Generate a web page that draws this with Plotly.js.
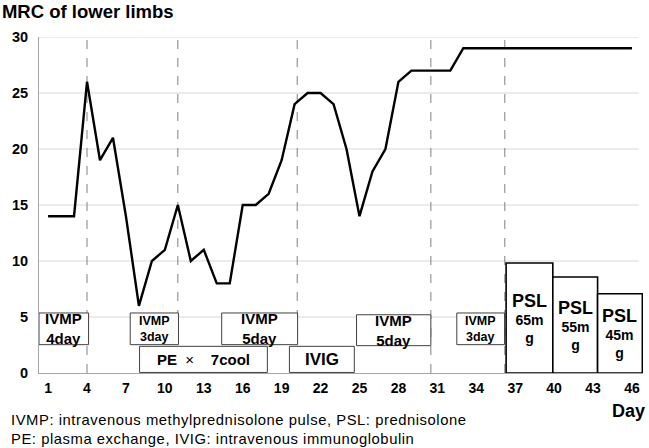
<!DOCTYPE html>
<html>
<head>
<meta charset="utf-8">
<script src="https://cdn.plot.ly/plotly-3.0.1.min.js"></script>
<style>html,body{margin:0;padding:0;background:#fff}#chart{width:649px;height:448px}</style>
</head>
<body>
<div id="chart"></div>
<script>
// Day of observation
var days = [];
for (var d = 1; d <= 46; d++) days.push(d);
// MRC score of lower limbs
var mrc = [14,14,14,26,19,21,14,6,10,11,15,10,11,8,8,15,15,16,19,24,25,25,24,20,14,18,20,26,27,27,27,27,29,29,29,29,29,29,29,29,29,29,29,29,29,29];
var tickDays = [1,4,7,10,13,16,19,22,25,28,31,34,37,40,43,46];
var yTicks = [0,5,10,15,20,25,30];
// treatment start markers (days)
var markerDays = [4, 11, 20.2, 30.5, 36.2];
// treatment boxes: label lines, day span, score span
var boxStart = [0.3, 7.33, 14.38, 8.05, 19.6, 24.77, 32.5, 36.3, 39.9, 43.35];
var boxEnd   = [4.12, 11.05, 20.23, 17.9, 24.6, 30.5, 36.18, 39.9, 43.35, 46.8];
var boxLow   = [2.53, 2.53, 2.53, 0.05, 0.05, 2.44, 2.53, 0, 0, 0];
var boxHigh  = [5.36, 5.36, 5.36, 2.38, 2.38, 5.2, 5.36, 9.82, 8.57, 7.08];
var boxText  = ['IVMP<br>4day', 'IVMP<br>3day', 'IVMP<br>5day', 'PE  <span style="font-weight:normal">×</span>    7cool', 'IVIG',
                'IVMP<br>5day', 'IVMP<br>3day',
                '<span style="font-size:18px">PSL</span><br>65m<br>g',
                '<span style="font-size:18px">PSL</span><br>55m<br>g',
                '<span style="font-size:18px">PSL</span><br>45m<br>g'];
var boxFont  = [15, 12.5, 15, 15, 17, 15, 12.5, 14, 14, 14];
var boxStrong = [false,false,false,false,false,false,false,true,true,true];
var footnote = ['IVMP: intravenous methylprednisolone pulse, PSL: prednisolone',
                'PE: plasma exchange, IVIG: intravenous immunoglobulin'];

var FONT = 'Liberation Sans, Arial, sans-serif';
var shapes = [];
var annotations = [];
var xMin = 0.3, xMax = 46.85, xGridEnd = 46.5;

yTicks.forEach(function (v) {
  if (v === 0) return;
  shapes.push({type:'line', xref:'x', yref:'y', x0:xMin, x1:xGridEnd, y0:v, y1:v,
    line:{color:'#d9d9d9', width:1}, layer:'below'});
});
markerDays.forEach(function (m) {
  shapes.push({type:'line', xref:'x', yref:'y', x0:m, x1:m, y0:0, y1:30,
    line:{color:'#808080', width:1, dash:'dash'}, layer:'below'});
});
for (var i = 0; i < boxStart.length; i++) {
  shapes.push({type:'rect', xref:'x', yref:'y', x0:boxStart[i], x1:boxEnd[i], y0:boxLow[i], y1:boxHigh[i],
    fillcolor:'#ffffff', line:{color: boxStrong[i] ? '#000000' : '#404040', width: boxStrong[i] ? 1.6 : 1}, layer:'above'});
  annotations.push({xref:'x', yref:'y', x:(boxStart[i]+boxEnd[i])/2, y:(boxLow[i]+boxHigh[i])/2,
    text:'<b>'+boxText[i]+'</b>', showarrow:false, font:{family:FONT, size:boxFont[i], color:'#000'}});
}
annotations.push({xref:'paper', yref:'paper', x:1, xanchor:'right', xshift:4, y:-0.113, yanchor:'middle',
  text:'<b>Day</b>', showarrow:false, font:{family:FONT, size:18, color:'#000'}});
annotations.push({xref:'paper', yref:'paper', x:-0.05, xanchor:'left', y:-0.1696, yanchor:'middle', align:'left',
  text:footnote.map(function (s) { return '<span style="letter-spacing:0.55px">' + s + '</span>'; }).join('<br>'),
  showarrow:false,
  font:{family:'Liberation Sans Narrow, Arial Narrow, ' + FONT, size:14.8, color:'#000'}});

var trace = {x: days, y: mrc, type:'scatter', mode:'lines',
  line:{color:'#000000', width:2.4}, hoverinfo:'skip'};

var layout = {
  width:649, height:448,
  margin:{l:39, r:6, t:37, b:75},
  paper_bgcolor:'#fff', plot_bgcolor:'#fff',
  showlegend:false,
  title:{text:'<b>MRC of lower limbs</b>', x:0.003, xanchor:'left', xref:'container', y:0.975, yanchor:'middle', yref:'container',
    font:{family:FONT, size:18.5, color:'#000'}},
  xaxis:{range:[xMin, xMax], tickvals:tickDays, ticktext:tickDays.map(String), showgrid:false, zeroline:false,
    showline:true, linecolor:'#a6a6a6', linewidth:1, ticks:'', ticklabelstandoff:2,
    tickfont:{family:FONT, size:14, color:'#000', weight:'bold'}},
  yaxis:{range:[0, 30], tickvals:yTicks, showgrid:false, zeroline:false,
    showline:true, linecolor:'#a6a6a6', linewidth:1, ticks:'', ticklabelstandoff:7,
    tickfont:{family:FONT, size:14.5, color:'#000', weight:'bold'}},
  shapes:shapes,
  annotations:annotations
};
Plotly.newPlot('chart', [trace], layout, {displayModeBar:false, staticPlot:true});
</script>
</body>
</html>
